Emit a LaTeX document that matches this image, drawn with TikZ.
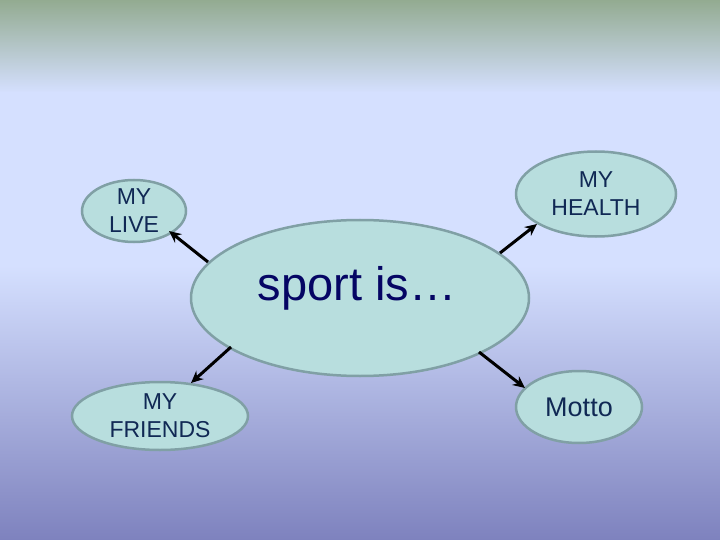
\documentclass[tikz,border=0pt]{standalone}
\usepackage{fontspec}
\setmainfont{Liberation Sans}
\usetikzlibrary{arrows.meta,shapes.geometric}
\definecolor{bgtop}{RGB}{147,171,145}
\definecolor{bglight}{RGB}{213,224,255}
\definecolor{bgbottom}{RGB}{126,130,190}
\definecolor{bubblefill}{RGB}{184,222,222}
\definecolor{bubbleline}{RGB}{128,160,165}
\definecolor{smalltext}{RGB}{16,40,84}
\definecolor{bigtext}{RGB}{5,5,100}
\tikzset{
  bubble/.style={ellipse, fill=bubblefill, draw=bubbleline, line width=2.5pt, inner sep=0pt},
  lbl/.style={font=\fontsize{23}{28}\selectfont, text=smalltext, align=center},
  conn/.style={line width=3pt, -{Stealth[length=12pt,width=11pt]}}
}
\begin{document}
\begin{tikzpicture}[x=1pt,y=-1pt]
\useasboundingbox (0,0) rectangle (720,540);
\shade[top color=bgtop, bottom color=bglight] (0,0) rectangle (720,93);
\fill[bglight] (0,92.5) rectangle (720,266);
\shade[top color=bglight, bottom color=bgbottom] (0,265.5) rectangle (720,540);

\node[bubble, minimum width=338pt, minimum height=156pt] (c) at (360,298) {};
\node[font=\fontsize{47}{50}\selectfont, text=bigtext] (ct) at (357,288) {sport is…};

\node[bubble, minimum width=104pt, minimum height=62pt] (live) at (134,211) {};
\node[lbl] (livet) at (134,211) {MY\\LIVE};

\node[bubble, minimum width=160pt, minimum height=85pt] (health) at (596,194) {};
\node[lbl] (healtht) at (596,194) {MY\\HEALTH};

\node[bubble, minimum width=176pt, minimum height=68pt] (friends) at (160,416) {};
\node[lbl] (friendst) at (160,416) {MY\\FRIENDS};

\node[bubble, minimum width=126pt, minimum height=72pt] (motto) at (579,407) {};
\node[lbl, font=\fontsize{27}{30}\selectfont] (mottot) at (579,407) {Motto};

\coordinate (s1) at (208,262);
\coordinate (s2) at (500,253);
\coordinate (s3) at (231,347);
\coordinate (s4) at (479,352);
\coordinate (e1) at (169,231);
\coordinate (e2) at (537,224);
\coordinate (e3) at (191,383);
\coordinate (e4) at (525,388);
\draw[conn] (s1) -- (e1);
\draw[conn] (s2) -- (e2);
\draw[conn] (s3) -- (e3);
\draw[conn] (s4) -- (e4);
\end{tikzpicture}
\end{document}
